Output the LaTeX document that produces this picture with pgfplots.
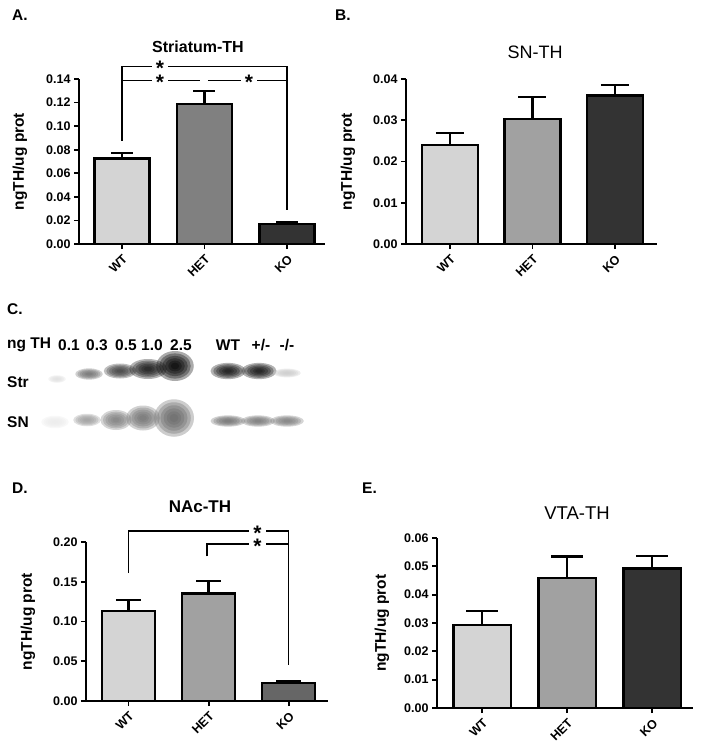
\documentclass[border=0pt]{standalone}
\usepackage{pgfplots}
\pgfplotsset{compat=1.18}
\usepackage{fontspec}
\setmainfont{Liberation Sans}

\definecolor{cWT}{gray}{0.83}
\definecolor{cHETa}{gray}{0.50}
\definecolor{cHET}{gray}{0.63}
\definecolor{cKO}{gray}{0.20}
\definecolor{cKOd}{gray}{0.40}

\newcommand{\fs}[1]{\fontsize{#1}{#1}\selectfont}
% soft blot band: stacked translucent ellipses
\newcommand{\band}[5]{\foreach \s in {1.25,1.05,0.85,0.65,0.45,0.28}{\fill[black!#5, fill opacity=0.33] (#1pt,-#2pt) ellipse ({\s*#3pt} and {\s*#4pt});}}

\pgfplotsset{prism/.style={
  scale only axis, anchor=south west, clip=false,
  axis x line*=bottom, axis y line*=left,
  axis line style={line width=1.8pt,-},
  every tick/.style={black, line width=1.8pt},
  tick align=outside, major tick length=5pt,
  ymin=0, xtick={0,1,2}, xticklabels={WT,HET,KO},
  x tick label style={rotate=45, anchor=north east, font=\bfseries\fs{12.5}},
  y tick label style={font=\bfseries\fs{12.5}},
  /pgf/number format/assume math mode=true,
  yticklabel style={/pgf/number format/fixed, /pgf/number format/fixed zerofill, /pgf/number format/precision=2},
  scaled y ticks=false,
  ylabel={ngTH/ug prot},
  ylabel style={font=\bfseries\fs{15.5}, anchor=center},
  ybar, bar shift=0pt,
  every axis plot/.append style={draw=black, line width=2.4pt},
  error bars/y dir=plus, error bars/y explicit,
  error bars/error bar style={line width=2.4pt, black},
}}
\tikzset{star/.style={fill=white, inner xsep=4pt, inner ysep=0pt, font=\bfseries\fs{21}, yshift=-2pt}}

\begin{document}
\begin{tikzpicture}
\useasboundingbox (0pt,0pt) rectangle (704pt,-750pt);

% ---------- A ----------
\begin{axis}[prism, at={(79pt,-244pt)}, width=246pt, height=165pt,
  xmin=-0.52, xmax=2.46, ymax=0.14,
  ytick={0,0.02,0.04,0.06,0.08,0.10,0.12,0.14}, bar width=0.667,
  ylabel style={at={(axis description cs:-0.24,0.5)}},
  error bars/error mark options={rotate=90, mark size=11pt, line width=2.4pt, black}]
\addplot[fill=cWT] coordinates {(0,0.0726) +- (0,0.0046)};
\addplot[fill=cHETa] coordinates {(1,0.1188) +- (0,0.0110)};
\addplot[fill=cKO] coordinates {(2,0.0170) +- (0,0.0013)};
\draw[line width=1.5pt] (axis cs:0,0.0876) -- (axis cs:0,0.1507) -- (axis cs:2,0.1507) -- (axis cs:2,0.0291);
\draw[line width=1.5pt] (axis cs:0,0.1386) -- (axis cs:0.945,0.1386);
\draw[line width=1.5pt] (axis cs:1.04,0.1386) -- (axis cs:2,0.1386);
\node[star] at (axis cs:0.46,0.1507) {*};
\node[star] at (axis cs:0.46,0.1386) {*};
\node[star] at (axis cs:1.54,0.1386) {*};
\end{axis}

% ---------- B ----------
\begin{axis}[prism, at={(406pt,-244pt)}, width=251pt, height=165pt,
  xmin=-0.533, xmax=2.51, ymax=0.04,
  ytick={0,0.01,0.02,0.03,0.04}, bar width=0.68,
  ylabel style={at={(axis description cs:-0.231,0.5)}},
  error bars/error mark options={rotate=90, mark size=14pt, line width=2.4pt, black}]
\addplot[fill=cWT] coordinates {(0,0.0240) +- (0,0.0029)};
\addplot[fill=cHET] coordinates {(1,0.0303) +- (0,0.0054)};
\addplot[fill=cKO] coordinates {(2,0.0360) +- (0,0.0026)};
\end{axis}

% ---------- D ----------
\begin{axis}[prism, at={(86pt,-701pt)}, width=242pt, height=159pt,
  xmin=-0.53, xmax=2.49, ymax=0.2,
  ytick={0,0.05,0.10,0.15,0.20}, bar width=0.66,
  ylabel style={at={(axis description cs:-0.24,0.5)}},
  error bars/error mark options={rotate=90, mark size=12.5pt, line width=2.4pt, black}]
\addplot[fill=cWT] coordinates {(0,0.1132) +- (0,0.0138)};
\addplot[fill=cHET] coordinates {(1,0.1350) +- (0,0.0160)};
\addplot[fill=cKOd] coordinates {(2,0.0230) +- (0,0.0022)};
\draw[line width=1.5pt] (axis cs:0,0.161) -- (axis cs:0,0.214) -- (axis cs:2,0.214) -- (axis cs:2,0.045);
\draw[line width=1.5pt] (axis cs:0.98,0.182) -- (axis cs:0.98,0.1975) -- (axis cs:2,0.1975);
\node[star] at (axis cs:1.61,0.214) {*};
\node[star] at (axis cs:1.61,0.1975) {*};
\end{axis}

% ---------- E ----------
\begin{axis}[prism, at={(437pt,-708pt)}, width=256pt, height=170pt,
  xmin=-0.533, xmax=2.48, ymax=0.06,
  ytick={0,0.01,0.02,0.03,0.04,0.05,0.06}, bar width=0.675,
  ylabel style={at={(axis description cs:-0.215,0.5)}},
  error bars/error mark options={rotate=90, mark size=16pt, line width=2.4pt, black}]
\addplot[fill=cWT] coordinates {(0,0.0292) +- (0,0.0051)};
\addplot[fill=cHET] coordinates {(1,0.0459) +- (0,0.0076)};
\addplot[fill=cKO] coordinates {(2,0.0492) +- (0,0.0045)};
\end{axis}

% ---------- titles and panel letters ----------
\node[font=\bfseries\fs{16}] at (198pt,-47pt) {Striatum-TH};
\node[font=\fs{18}] at (535pt,-52pt) {SN-TH};
\node[font=\bfseries\fs{17}] at (200pt,-507pt) {NAc-TH};
\node[font=\fs{18.5}] at (577pt,-513pt) {VTA-TH};
\node[font=\bfseries\fs{15.5}, anchor=west, inner sep=0pt] at (12pt,-15.5pt) {A.};
\node[font=\bfseries\fs{15.5}, anchor=west, inner sep=0pt] at (335pt,-15.5pt) {B.};
\node[font=\bfseries\fs{15.5}, anchor=west, inner sep=0pt] at (7pt,-309pt) {C.};
\node[font=\bfseries\fs{15.5}, anchor=west, inner sep=0pt] at (12pt,-488pt) {D.};
\node[font=\bfseries\fs{15.5}, anchor=west, inner sep=0pt] at (362pt,-488pt) {E.};

% ---------- C: blot ----------
\begin{scope}[font=\bfseries\fs{15.5}]
\node[anchor=west, inner sep=0pt] at (7pt,-345pt) {ng TH};
\node at (69pt,-345pt) {0.1};
\node at (97pt,-345pt) {0.3};
\node at (126pt,-345pt) {0.5};
\node at (152pt,-345pt) {1.0};
\node at (181pt,-345pt) {2.5};
\node at (228pt,-345pt) {WT};
\node at (261pt,-345pt) {+/-};
\node at (287pt,-345pt) {-/-};
\node[anchor=west, inner sep=0pt] at (7pt,-382pt) {Str};
\node[anchor=west, inner sep=0pt] at (7pt,-422pt) {SN};
\end{scope}
% Str row
\band{57}{379}{7}{3}{12}
\band{89}{374}{11}{4.5}{55}
\band{120}{371}{13}{6}{75}
\band{148}{369}{15}{8}{90}
\band{175}{366}{15}{12}{100}
\band{228}{371}{14}{6.5}{92}
\band{259}{371}{14}{6.5}{92}
\band{287}{373}{11}{3.5}{20}
% SN row
\band{55}{422}{11}{5}{8}
\band{87}{420}{11}{5}{38}
\band{116}{420}{12.5}{8}{50}
\band{143}{418}{13.5}{10}{55}
\band{174}{418}{16}{15}{60}
\band{228}{421}{14}{4.5}{55}
\band{258}{421}{13.5}{4.5}{52}
\band{287}{421}{13.5}{4.5}{50}
\end{tikzpicture}
\end{document}
